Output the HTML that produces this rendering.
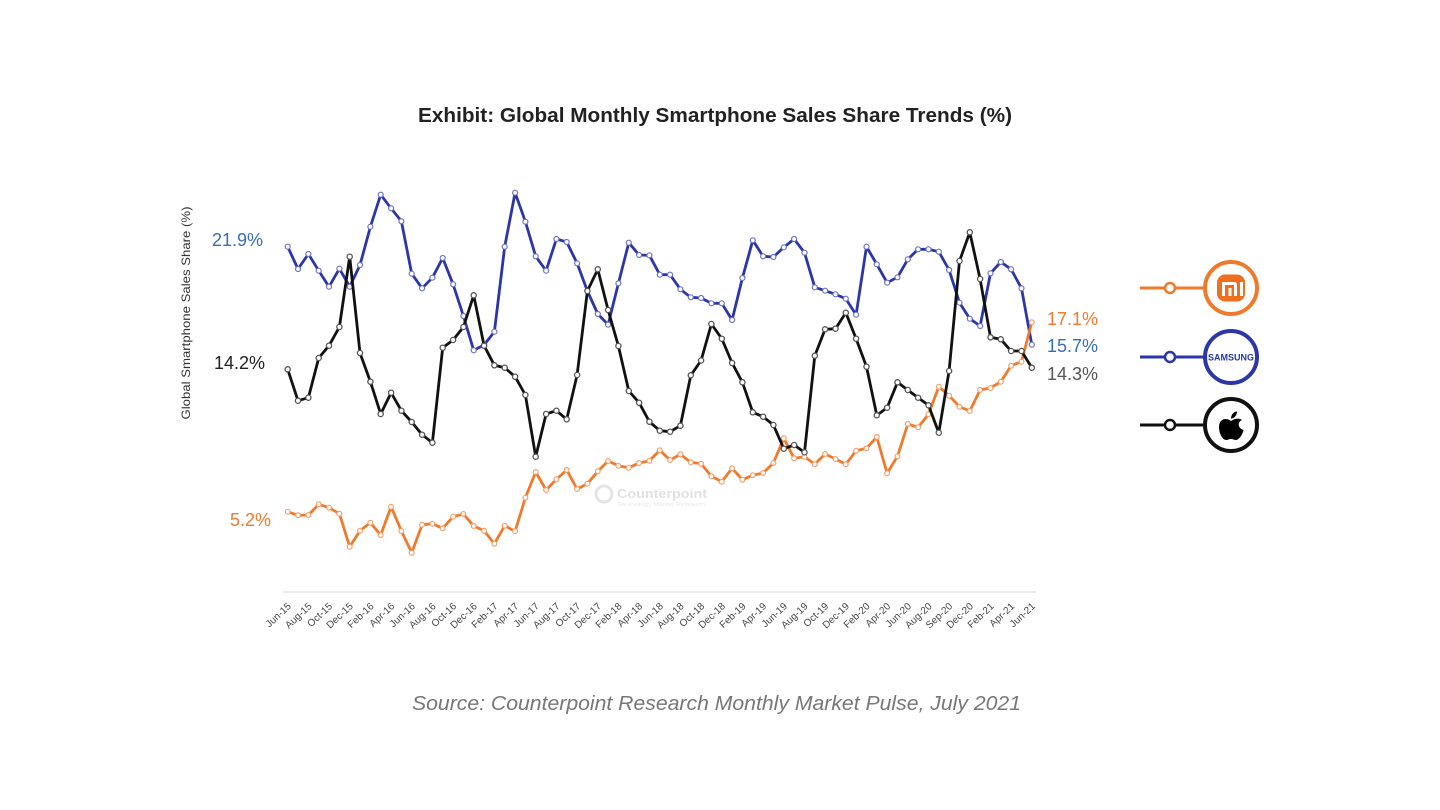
<!DOCTYPE html>
<html>
<head>
<meta charset="utf-8">
<style>
  html,body{margin:0;padding:0;background:#fff;}
  svg{display:block;}
  text{font-family:"Liberation Sans", Arial, sans-serif;}
</style>
</head>
<body>
<svg width="1440" height="810" viewBox="0 0 1440 810" xmlns="http://www.w3.org/2000/svg">
  <defs>
    <marker id="mb" markerUnits="userSpaceOnUse" markerWidth="8" markerHeight="8" refX="4" refY="4">
      <circle cx="4" cy="4" r="2.5" fill="#fff" stroke="#6c74c8" stroke-width="1.2"/>
    </marker>
    <marker id="mk" markerUnits="userSpaceOnUse" markerWidth="8" markerHeight="8" refX="4" refY="4">
      <circle cx="4" cy="4" r="2.6" fill="#fff" stroke="#555" stroke-width="1.3"/>
    </marker>
    <marker id="mo" markerUnits="userSpaceOnUse" markerWidth="8" markerHeight="8" refX="4" refY="4">
      <circle cx="4" cy="4" r="2.4" fill="#fff" stroke="#f4a06a" stroke-width="1.2"/>
    </marker>
  </defs>
  <rect width="1440" height="810" fill="#fff"/>

  <!-- Title -->
  <text x="715" y="122" text-anchor="middle" font-size="20" font-weight="bold" fill="#222" textLength="594" lengthAdjust="spacingAndGlyphs">Exhibit: Global Monthly Smartphone Sales Share Trends (%)</text>

  <!-- Y axis title -->
  <text transform="translate(190,313) rotate(-90)" text-anchor="middle" font-size="12" fill="#333" textLength="213" lengthAdjust="spacingAndGlyphs">Global Smartphone Sales Share (%)</text>

  <!-- Watermark -->
  <g opacity="0.9">
    <circle cx="604" cy="494" r="8" fill="none" stroke="#e2e2e2" stroke-width="3"/>
    <text x="617" y="498" font-size="13" font-weight="bold" fill="#dedede" textLength="90" lengthAdjust="spacingAndGlyphs">Counterpoint</text>
    <text x="617" y="506" font-size="5.5" fill="#e4e4e4" textLength="88" lengthAdjust="spacingAndGlyphs">Technology Market Research</text>
  </g>

  <!-- Axis line -->
  <line x1="283" y1="592" x2="1036" y2="592" stroke="#e3e3e3" stroke-width="1.5"/>

  <!-- Series -->
  <polyline fill="none" stroke="#2b37a8" stroke-width="2.8" stroke-linejoin="round" marker-start="url(#mb)" marker-mid="url(#mb)" marker-end="url(#mb)"
    points="287.7,246.7 298,269 308.4,254 318.7,270.7 329,286.7 339.4,268.7 349.7,286.7 360,265 370.4,226.7 380.7,194.7 391.1,208.3 401.4,221.3 411.7,273.7 422.1,288.3 432.4,277.7 442.7,258 453.1,284.3 463.4,316 473.7,350.3 484.1,345 494.4,331.7 504.7,246.7 515.1,192.7 525.4,221.7 535.7,256.3 546.1,270.7 556.4,239 566.7,242 577.1,263.3 587.4,291 597.8,314 608.1,324.7 618.4,283.3 628.8,242.7 639.1,255 649.4,255.3 659.8,274.7 670.1,274.7 680.4,289.3 690.8,297.3 701.1,298 711.4,303.3 721.8,303.3 732.1,320 742.4,278 752.8,240.3 763.1,256.3 773.4,257 783.8,247.3 794.1,239 804.5,252.7 814.8,287.3 825.1,290.7 835.5,294.3 845.8,298.7 856.1,314.7 866.5,246.7 876.8,264.3 887.1,282.7 897.5,277.3 907.8,259.3 918.1,249.3 928.5,249.3 938.8,251.7 949.1,270 959.5,302.7 969.8,318.7 980.1,326 990.5,273.3 1000.8,262 1011.1,269.3 1021.5,288.3 1031.8,344.7"/>

  <polyline fill="none" stroke="#f07a2c" stroke-width="2.8" stroke-linejoin="round" marker-start="url(#mo)" marker-mid="url(#mo)" marker-end="url(#mo)"
    points="287.7,511.7 298,515.3 308.4,515 318.7,504.3 329,507.7 339.4,513.7 349.7,546.7 360,530.7 370.4,522.7 380.7,535 391.1,506.7 401.4,531 411.7,552.7 422.1,524.7 432.4,523.7 442.7,528.3 453.1,516.7 463.4,514 473.7,526 484.1,530.7 494.4,543.7 504.7,525.7 515.1,531.3 525.4,497.7 535.7,472 546.1,490 556.4,479.3 566.7,470 577.1,489 587.4,483.7 597.8,471.3 608.1,461 618.4,465.7 628.8,467.7 639.1,463 649.4,460.7 659.8,450.3 670.1,460 680.4,454.3 690.8,462.3 701.1,463.7 711.4,476.3 721.8,481.7 732.1,468.3 742.4,479.7 752.8,475.3 763.1,473 773.4,463 783.8,438.3 794.1,458.3 804.5,456.7 814.8,464.3 825.1,454 835.5,459 845.8,464.3 856.1,450.7 866.5,448.3 876.8,437 887.1,473.3 897.5,456.3 907.8,424 918.1,427.3 928.5,414.3 938.8,386.7 949.1,395.7 959.5,406.7 969.8,411 980.1,390 990.5,388 1000.8,381.7 1011.1,365.7 1021.5,361.7 1031.8,322.3"/>

  <polyline fill="none" stroke="#111" stroke-width="2.8" stroke-linejoin="round" marker-start="url(#mk)" marker-mid="url(#mk)" marker-end="url(#mk)"
    points="287.7,369.3 298,400.7 308.4,397.7 318.7,358 329,345.7 339.4,327 349.7,256.7 360,353 370.4,381.7 380.7,414 391.1,392.7 401.4,410.7 411.7,422 422.1,434.7 432.4,442.7 442.7,347.7 453.1,340 463.4,327 473.7,295.3 484.1,345.7 494.4,365.3 504.7,367.7 515.1,376.7 525.4,395 535.7,456.7 546.1,414 556.4,410.7 566.7,419.3 577.1,375 587.4,291 597.8,269.3 608.1,310 618.4,346 628.8,391 639.1,402.7 649.4,421.7 659.8,430.7 670.1,431.7 680.4,425.7 690.8,375.3 701.1,360.5 711.4,324 721.8,338.7 732.1,363 742.4,382.3 752.8,412.3 763.1,416.7 773.4,425 783.8,448.7 794.1,445 804.5,452.3 814.8,355.7 825.1,329.3 835.5,328.7 845.8,312.7 856.1,338.7 866.5,366.7 876.8,415.3 887.1,407.7 897.5,382.3 907.8,390 918.1,397.7 928.5,405.3 938.8,432.7 949.1,371 959.5,261 969.8,232.3 980.1,279 990.5,337.3 1000.8,339.3 1011.1,351 1021.5,351 1031.8,367.7"/>

  <!-- Value labels -->
  <text x="212" y="246" font-size="18" fill="#3a6db6">21.9%</text>
  <text x="214" y="369" font-size="18" fill="#222">14.2%</text>
  <text x="230" y="526" font-size="18" fill="#f07b30">5.2%</text>
  <text x="1047" y="325" font-size="18" fill="#f07b30">17.1%</text>
  <text x="1047" y="352" font-size="18" fill="#3a6db6">15.7%</text>
  <text x="1047" y="380" font-size="18" fill="#555">14.3%</text>

  <!-- X labels -->
  <g font-size="10" fill="#444" text-anchor="end">
    <text transform="translate(291.7,607) rotate(-43)">Jun-15</text>
    <text transform="translate(312.4,607) rotate(-43)">Aug-15</text>
    <text transform="translate(333,607) rotate(-43)">Oct-15</text>
    <text transform="translate(353.7,607) rotate(-43)">Dec-15</text>
    <text transform="translate(374.4,607) rotate(-43)">Feb-16</text>
    <text transform="translate(395.1,607) rotate(-43)">Apr-16</text>
    <text transform="translate(415.7,607) rotate(-43)">Jun-16</text>
    <text transform="translate(436.4,607) rotate(-43)">Aug-16</text>
    <text transform="translate(457.1,607) rotate(-43)">Oct-16</text>
    <text transform="translate(477.7,607) rotate(-43)">Dec-16</text>
    <text transform="translate(498.4,607) rotate(-43)">Feb-17</text>
    <text transform="translate(519.1,607) rotate(-43)">Apr-17</text>
    <text transform="translate(539.7,607) rotate(-43)">Jun-17</text>
    <text transform="translate(560.4,607) rotate(-43)">Aug-17</text>
    <text transform="translate(581.1,607) rotate(-43)">Oct-17</text>
    <text transform="translate(601.8,607) rotate(-43)">Dec-17</text>
    <text transform="translate(622.4,607) rotate(-43)">Feb-18</text>
    <text transform="translate(643.1,607) rotate(-43)">Apr-18</text>
    <text transform="translate(663.8,607) rotate(-43)">Jun-18</text>
    <text transform="translate(684.4,607) rotate(-43)">Aug-18</text>
    <text transform="translate(705.1,607) rotate(-43)">Oct-18</text>
    <text transform="translate(725.8,607) rotate(-43)">Dec-18</text>
    <text transform="translate(746.4,607) rotate(-43)">Feb-19</text>
    <text transform="translate(767.1,607) rotate(-43)">Apr-19</text>
    <text transform="translate(787.8,607) rotate(-43)">Jun-19</text>
    <text transform="translate(808.5,607) rotate(-43)">Aug-19</text>
    <text transform="translate(829.1,607) rotate(-43)">Oct-19</text>
    <text transform="translate(849.8,607) rotate(-43)">Dec-19</text>
    <text transform="translate(870.5,607) rotate(-43)">Feb-20</text>
    <text transform="translate(891.1,607) rotate(-43)">Apr-20</text>
    <text transform="translate(911.8,607) rotate(-43)">Jun-20</text>
    <text transform="translate(932.5,607) rotate(-43)">Aug-20</text>
    <text transform="translate(953.1,607) rotate(-43)">Sep-20</text>
    <text transform="translate(973.8,607) rotate(-43)">Dec-20</text>
    <text transform="translate(994.5,607) rotate(-43)">Feb-21</text>
    <text transform="translate(1015.1,607) rotate(-43)">Apr-21</text>
    <text transform="translate(1035.8,607) rotate(-43)">Jun-21</text>
  </g>

  <!-- Legend -->
  <!-- Mi -->
  <line x1="1140" y1="288" x2="1204" y2="288" stroke="#f07a2c" stroke-width="3"/>
  <circle cx="1170" cy="288" r="5" fill="#fff" stroke="#f07a2c" stroke-width="2.5"/>
  <circle cx="1231" cy="288" r="26" fill="#fff" stroke="#f07a2c" stroke-width="4"/>
  <rect x="1217" y="274.5" width="28" height="27" rx="8" fill="#f06f1e"/>
  <path d="M1222 282 H1234 Q1237 282 1237 285 V296 H1234 V285 H1225 V296 H1222 Z" fill="#fff"/>
  <rect x="1228.5" y="288" width="3" height="8" fill="#fff"/>
  <rect x="1240" y="282" width="3" height="14" fill="#fff"/>

  <!-- Samsung -->
  <line x1="1140" y1="357" x2="1204" y2="357" stroke="#2b37a8" stroke-width="3"/>
  <circle cx="1170" cy="357" r="5" fill="#fff" stroke="#2b37a8" stroke-width="2.5"/>
  <circle cx="1231" cy="357" r="26" fill="#fff" stroke="#2b37a8" stroke-width="4"/>
  <text x="1231" y="360.5" text-anchor="middle" font-size="9.5" font-weight="bold" fill="#2b37a8" textLength="46" lengthAdjust="spacingAndGlyphs">SAMSUNG</text>

  <!-- Apple -->
  <line x1="1140" y1="425" x2="1204" y2="425" stroke="#111" stroke-width="3"/>
  <circle cx="1170" cy="425" r="5" fill="#fff" stroke="#111" stroke-width="2.5"/>
  <circle cx="1231" cy="425" r="26" fill="#fff" stroke="#111" stroke-width="4"/>
  <path d="M1231 421 C1226 417,1219 419,1219 427 C1219 434,1223 440,1226 440 C1228 440,1229 439,1231 439 C1233 439,1234 440,1236 440 C1239 440,1243 434,1243.5 430 C1240 429,1238 426,1239 423 C1239.5 421.5,1240.5 420.5,1242 420 C1240 418,1235 418,1231 421 Z" fill="#000"/>
  <path d="M1231 418.5 C1231 414.5,1234 411.5,1237 411.5 C1237 415.5,1234 418.5,1231 418.5 Z" fill="#000"/>

  <!-- Source -->
  <text x="716.5" y="710" text-anchor="middle" font-size="20" font-style="italic" fill="#777" textLength="609" lengthAdjust="spacingAndGlyphs">Source: Counterpoint Research Monthly Market Pulse, July 2021</text>
</svg>
</body>
</html>
